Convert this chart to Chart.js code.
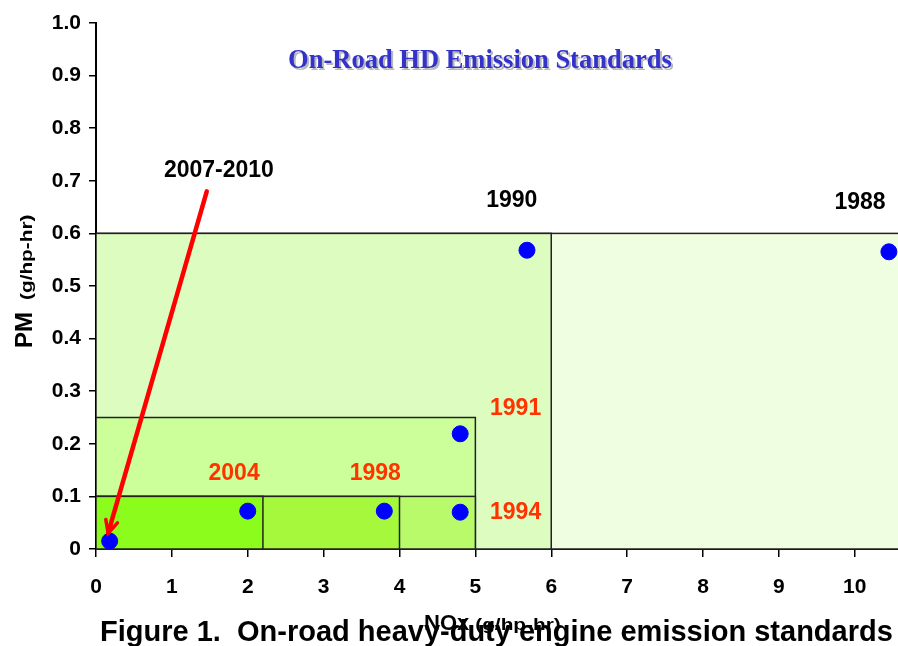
<!DOCTYPE html>
<html>
<head>
<meta charset="utf-8">
<script src="https://cdn.jsdelivr.net/npm/chart.js@4.4.1/dist/chart.umd.min.js"></script>
<style>
  html, body { margin: 0; padding: 0; background: #fff; overflow: hidden; }
  #wrap { width: 898px; height: 646px; position: relative; }
  canvas { display: block; }
</style>
</head>
<body>
<div id="wrap"><canvas id="chart"></canvas></div>
<script>
// standards boxes: each is NOx limit x PM limit
const boxYears = ['1988', '1990', '1991', '1994', '1998', '2004'];
const boxNox = [10.7, 6, 5, 5, 4, 2.2];
const boxPm = [0.6, 0.6, 0.25, 0.1, 0.1, 0.1];
const boxColors = ['#effde0', '#dcfcc0', '#ccff99', '#b8fa6a', '#a6f83c', '#8cfc1c'];

// engine points
const pointNox = [0.18, 2.0, 3.8, 4.8, 4.8, 5.68, 10.45];
const pointPm = [0.015, 0.072, 0.072, 0.07, 0.219, 0.568, 0.565];

// year labels, placed in data units
const labelText = ['2007-2010', '1990', '1988', '1991', '2004', '1998', '1994'];
const labelX = [1.62, 5.48, 10.07, 5.53, 1.82, 3.68, 5.53];
const labelY = [0.72, 0.663, 0.658, 0.266, 0.143, 0.143, 0.07];
const labelColor = ['#000', '#000', '#000', '#ff3300', '#ff3300', '#ff3300', '#ff3300'];

// arrow from the 2007-2010 label to its point
const arrowFrom = [1.46, 0.68];
const arrowTo = [0.16, 0.03];

const xTicks = [0, 1, 2, 3, 4, 5, 6, 7, 8, 9, 10];

const sans = '"Liberation Sans", Arial, sans-serif';

// small "(g/hp-hr)" unit text is drawn stretched like the original
function drawUnits(ctx, x, y) {
  ctx.save();
  ctx.translate(x, y);
  ctx.scale(1.3, 1);
  ctx.font = 'bold 16px ' + sans;
  ctx.fillText('(g/hp-hr)', 0, 0);
  ctx.restore();
}

const boxPlugin = {
  id: 'boxes',
  beforeDatasetsDraw(chart) {
    const { ctx, chartArea, scales: { x, y } } = chart;
    ctx.save();
    ctx.beginPath();
    ctx.rect(chartArea.left, chartArea.top, chartArea.width, chartArea.height + 2);
    ctx.clip();
    boxYears.forEach((yr, i) => {
      const x0 = x.getPixelForValue(0);
      const x1 = x.getPixelForValue(boxNox[i]);
      const y0 = y.getPixelForValue(0);
      const y1 = y.getPixelForValue(boxPm[i]);
      ctx.fillStyle = boxColors[i];
      ctx.fillRect(x0, y1, x1 - x0, y0 - y1);
      ctx.strokeStyle = '#222';
      ctx.lineWidth = 1.5;
      ctx.strokeRect(x0, y1, x1 - x0, y0 - y1);
    });
    ctx.restore();
  },
  afterDatasetsDraw(chart) {
    const { ctx, scales: { x, y } } = chart;
    ctx.save();

    // arrow
    const ax0 = x.getPixelForValue(arrowFrom[0]), ay0 = y.getPixelForValue(arrowFrom[1]);
    const ax1 = x.getPixelForValue(arrowTo[0]), ay1 = y.getPixelForValue(arrowTo[1]);
    ctx.strokeStyle = '#ff0000';
    ctx.lineWidth = 4.5;
    ctx.lineCap = 'round';
    ctx.beginPath();
    ctx.moveTo(ax0, ay0);
    ctx.lineTo(ax1, ay1);
    ctx.stroke();
    const ang = Math.atan2(ay1 - ay0, ax1 - ax0);
    ctx.lineWidth = 3.5;
    ctx.beginPath();
    ctx.moveTo(ax1 - 14 * Math.cos(ang - 0.45), ay1 - 14 * Math.sin(ang - 0.45));
    ctx.lineTo(ax1, ay1);
    ctx.lineTo(ax1 - 14 * Math.cos(ang + 0.45), ay1 - 14 * Math.sin(ang + 0.45));
    ctx.stroke();

    // labels
    ctx.textAlign = 'center';
    ctx.textBaseline = 'middle';
    ctx.font = 'bold 23px ' + sans;
    labelText.forEach((t, i) => {
      ctx.fillStyle = labelColor[i];
      ctx.fillText(t, x.getPixelForValue(labelX[i]), y.getPixelForValue(labelY[i]));
    });

    // chart title with shadow
    const tx = x.getPixelForValue(5.06), ty = y.getPixelForValue(0.928);
    ctx.font = 'bold 26.5px "Liberation Serif", "Times New Roman", serif';
    ctx.fillStyle = '#b8b8b8';
    ctx.fillText('On-Road HD Emission Standards', tx + 2, ty + 2);
    ctx.fillStyle = '#3333cc';
    ctx.fillText('On-Road HD Emission Standards', tx, ty);
    ctx.restore();
  },
  afterDraw(chart) {
    const { ctx } = chart;
    ctx.save();
    ctx.fillStyle = '#000';
    ctx.textBaseline = 'alphabetic';

    // caption
    ctx.textAlign = 'left';
    ctx.font = 'bold 29px ' + sans;
    ctx.fillText('Figure 1.  On-road heavy-duty engine emission standards', 100, 641);

    // x title
    ctx.font = 'bold 22px ' + sans;
    ctx.fillText('NOx', 424, 630);
    const w = ctx.measureText('NOx').width;
    drawUnits(ctx, 424 + w + 6, 630);

    // y title (rotated)
    ctx.translate(32, 348);
    ctx.rotate(-Math.PI / 2);
    ctx.font = 'bold 24px ' + sans;
    ctx.fillText('PM', 0, 0);
    const w2 = ctx.measureText('PM').width;
    drawUnits(ctx, w2 + 12, 0);
    ctx.restore();
  }
};

new Chart(document.getElementById('chart'), {
  type: 'scatter',
  data: {
    datasets: [{
      data: pointNox.map((v, i) => ({ x: v, y: pointPm[i] })),
      backgroundColor: '#0000ff',
      borderColor: '#0000ff',
      pointRadius: 8,
      pointHoverRadius: 8,
      clip: false
    }]
  },
  options: {
    responsive: true,
    maintainAspectRatio: false,
    animation: false,
    layout: { autoPadding: false, padding: { top: 23, right: 0, left: 0, bottom: 0 } },
    plugins: { legend: { display: false }, tooltip: { enabled: false } },
    scales: {
      x: {
        type: 'linear',
        min: 0,
        max: 10.57,
        afterFit(scale) {
          scale.height = 97;
          scale.paddingLeft = 0;
          scale.paddingRight = 0;
        },
        afterBuildTicks(scale) { scale.ticks = xTicks.map(v => ({ value: v })); },
        ticks: {
          color: '#000',
          padding: 18,
          font: { family: sans, size: 21, weight: 'bold' }
        },
        grid: { drawOnChartArea: false, drawTicks: true, tickLength: 8, color: '#000', lineWidth: 1.5 },
        border: { display: true, color: '#000', width: 2 }
      },
      y: {
        min: 0,
        max: 1,
        afterFit(scale) { scale.width = 96; },
        ticks: {
          stepSize: 0.1,
          color: '#000',
          padding: 8,
          font: { family: sans, size: 21, weight: 'bold' },
          callback: v => (v === 0 ? '0' : v.toFixed(1))
        },
        grid: { drawOnChartArea: false, drawTicks: true, tickLength: 7, color: '#000', lineWidth: 1.5 },
        border: { display: true, color: '#000', width: 2 }
      }
    }
  },
  plugins: [boxPlugin]
});
</script>
</body>
</html>
